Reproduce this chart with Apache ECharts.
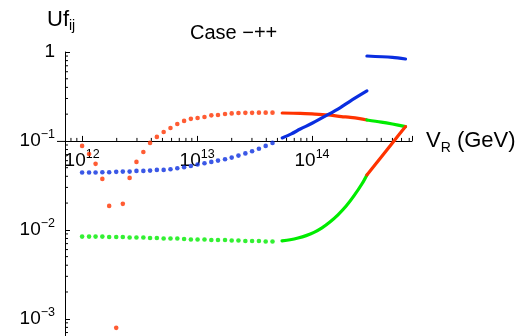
<!DOCTYPE html>
<html>
<head>
<meta charset="utf-8">
<script src="https://cdn.jsdelivr.net/npm/echarts@6/dist/echarts.min.js"></script>
<style>
  html, body { margin: 0; padding: 0; background: #fff; }
  #chart { width: 530px; height: 336px; }
</style>
</head>
<body>
<div id="chart"></div>
<script>
// Axis ranges (log scales); the horizontal axis crosses the vertical one at Y_CROSS
const X_MIN = 7.1e11, X_MAX = 7.4e14;
const Y_MIN = 6.4e-4, Y_MAX = 1;
const Y_CROSS = 0.1;

// Sampled (dotted) region, V_R in GeV
const dotX = [1.0e12, 1.15e12, 1.31e12, 1.5e12, 1.72e12, 1.98e12, 2.26e12, 2.59e12, 2.97e12, 3.41e12,
              3.9e12, 4.47e12, 5.12e12, 5.87e12, 6.73e12, 7.71e12, 8.83e12, 1.01e13, 1.16e13, 1.33e13,
              1.52e13, 1.75e13, 2.0e13, 2.29e13, 2.63e13, 3.01e13, 3.45e13, 3.95e13, 4.53e13];
const redDots = [0.0879, 0.0714, 0.0552, 0.0374, 0.0186, 0.00079, 0.0196, 0.0384, 0.0581, 0.0752,
                 0.095, 0.111, 0.126, 0.140, 0.155, 0.168, 0.177, 0.181, 0.186, 0.194,
                 0.196, 0.201, 0.204, 0.206, 0.207, 0.207, 0.208, 0.208, 0.208];
const blueDots = [0.0441, 0.0441, 0.0441, 0.0445, 0.0445, 0.0449, 0.0452, 0.0452, 0.0460, 0.0460,
                  0.0464, 0.0472, 0.0472, 0.0481, 0.0493, 0.0506, 0.0523, 0.0542, 0.0561, 0.0581,
                  0.0601, 0.0623, 0.0649, 0.0684, 0.0724, 0.0766, 0.0817, 0.0879, 0.0950];
const greenDots = [0.0084, 0.0084, 0.0084, 0.0084, 0.0083, 0.0083, 0.0083, 0.0082, 0.0082, 0.0082,
                   0.0081, 0.0081, 0.0080, 0.0080, 0.0080, 0.0079, 0.0078, 0.0078, 0.0078, 0.0077,
                   0.0077, 0.0077, 0.0076, 0.0076, 0.0075, 0.0075, 0.0075, 0.0074, 0.0074];

// Continuous region
const upperRedX = [5.5e13, 7.9e13, 1.0e14, 1.36e14, 1.8e14, 2.15e14, 2.6e14, 3.0e14];
const upperRedY = [0.206, 0.204, 0.201, 0.196, 0.188, 0.184, 0.178, 0.172];
const upperGreenX = [3.0e14, 4.0e14, 5.0e14, 6.5e14];
const upperGreenY = [0.172, 0.163, 0.155, 0.145];
const lowerGreenX = [5.48e13, 6.44e13, 7.55e13, 8.87e13, 1.04e14, 1.22e14, 1.43e14, 1.68e14, 1.98e14, 2.32e14, 2.72e14, 3.0e14];
const lowerGreenY = [0.00752, 0.00774, 0.00809, 0.00861, 0.00937, 0.01053, 0.01224, 0.01474, 0.01851, 0.02423, 0.03296, 0.0415];
const lowerRedX = [3.0e14, 4.0e14, 5.0e14, 6.5e14];
const lowerRedY = [0.0415, 0.066, 0.095, 0.145];
const blueLowX = [5.5e13, 6.6e13, 7.9e13, 1.0e14, 1.36e14, 1.75e14, 2.15e14, 3.0e14];
const blueLowY = [0.108, 0.120, 0.136, 0.158, 0.196, 0.236, 0.281, 0.365];
const blueHighX = [3.0e14, 5.0e14, 6.5e14];
const blueHighY = [0.902, 0.87, 0.834];

// Minor tick values
const xMinorTicks = [8e11, 9e11, 2e12, 3e12, 4e12, 5e12, 6e12, 7e12, 8e12, 9e12,
                     2e13, 3e13, 4e13, 5e13, 6e13, 7e13, 8e13, 9e13,
                     2e14, 3e14, 4e14, 5e14, 6e14, 7e14];
const yMinorTicks = [7e-4, 8e-4, 9e-4, 2e-3, 3e-3, 4e-3, 5e-3, 6e-3, 7e-3, 8e-3, 9e-3,
                     0.02, 0.03, 0.04, 0.05, 0.06, 0.07, 0.08, 0.09,
                     0.2, 0.3, 0.4, 0.5, 0.6, 0.7, 0.8, 0.9];

const RED = '#ff3300', BLUE = '#0a2ee0', GREEN = '#00ec00';
const FONT = '"Liberation Sans", Arial, Helvetica, sans-serif';

const zip = (xs, ys) => xs.map((x, i) => [x, ys[i]]);

function powLabel(v) {
  const e = Math.log10(v);
  const r = Math.round(e);
  if (Math.abs(e - r) > 1e-6) return '';
  if (r === 0) return '{m|1}';
  return '{m|10}{s|' + (r < 0 ? '\u2212' + (-r) : String(r)) + '}';
}

const tickRich = {
  m: { fontSize: 19, lineHeight: 26, fontFamily: FONT, color: '#000' },
  s: { fontSize: 12.5, lineHeight: 13, verticalAlign: 'top', fontFamily: FONT, color: '#000' }
};

function dotSeries(data, color) {
  return { type: 'scatter', data: data, symbol: 'circle', symbolSize: 4.6,
           itemStyle: { color: color }, silent: true, z: 3 };
}
function curveSeries(data, color, z) {
  return { type: 'line', data: data, showSymbol: false, smooth: 0.3,
           lineStyle: { color: color, width: 3.2, cap: 'round', join: 'round' }, silent: true, z: z };
}

const chart = echarts.init(document.getElementById('chart'), null, { renderer: 'canvas' });

chart.setOption({
  animation: false,
  backgroundColor: '#fff',
  title: {
    text: 'Case \u2212++', left: 185, top: 18,
    textStyle: { fontFamily: FONT, fontSize: 20, fontWeight: 'normal', color: '#000' }
  },
  graphic: [{
    type: 'text', left: 47, top: 9, silent: true,
    style: {
      text: '{m|Uf}{s|ij}',
      rich: {
        m: { fontSize: 22, lineHeight: 26, fontFamily: FONT, fill: '#000' },
        s: { fontSize: 14, lineHeight: 14, verticalAlign: 'bottom', fontFamily: FONT, fill: '#000' }
      }
    }
  }],
  grid: { left: 65, right: 118, top: 52, bottom: 0, outerBoundsMode: 'none', containLabel: false },
  xAxis: {
    type: 'log', min: X_MIN, max: X_MAX, logBase: 10,
    position: 'bottom', offset: 0,
    axisLine: { show: true, onZero: false, lineStyle: { color: '#000', width: 1 } },
    axisTick: { show: true, inside: true, length: 5, lineStyle: { color: '#000' } },
    axisLabel: { formatter: powLabel, rich: tickRich, margin: 7, interval: 0,
                 showMinLabel: true, showMaxLabel: true, hideOverlap: false },
    splitLine: { show: false },
    name: '{m|V}{s|R}{m| (GeV)}', nameLocation: 'end', nameGap: 14,
    nameTextStyle: {
      rich: {
        m: { fontSize: 22, lineHeight: 28, fontFamily: FONT, color: '#000' },
        s: { fontSize: 14, lineHeight: 14, verticalAlign: 'bottom', fontFamily: FONT, color: '#000' }
      }
    }
  },
  yAxis: {
    type: 'log', min: Y_MIN, max: Y_MAX, logBase: 10,
    axisLine: { show: true, onZero: false, lineStyle: { color: '#000', width: 1 } },
    axisTick: { show: true, inside: true, length: 5, lineStyle: { color: '#000' } },
    axisLabel: { formatter: powLabel, rich: tickRich, margin: 10,
                 showMinLabel: true, showMaxLabel: true, hideOverlap: false },
    splitLine: { show: false }
  },
  series: [
    // minor ticks along the horizontal axis (drawn at the crossing level)
    {
      type: 'custom', silent: true, clip: false, z: 1,
      data: xMinorTicks.map(v => [v, Y_CROSS]),
      renderItem: (params, api) => {
        const p = api.coord([api.value(0), api.value(1)]);
        return { type: 'line', shape: { x1: p[0], y1: p[1], x2: p[0], y2: p[1] - 3 },
                 style: { stroke: '#000', lineWidth: 1 } };
      }
    },
    // short stub of the horizontal axis left of the vertical axis
    {
      type: 'custom', silent: true, clip: false, z: 1,
      data: [[X_MIN, Y_CROSS]],
      renderItem: (params, api) => {
        const p = api.coord([api.value(0), api.value(1)]);
        return { type: 'line', shape: { x1: p[0] - 8, y1: p[1] + 0.5, x2: p[0], y2: p[1] + 0.5 },
                 style: { stroke: '#000', lineWidth: 1 } };
      }
    },
    // minor ticks along the vertical axis
    {
      type: 'custom', silent: true, clip: false, z: 1,
      data: yMinorTicks.map(v => [X_MIN, v]),
      renderItem: (params, api) => {
        const p = api.coord([api.value(0), api.value(1)]);
        return { type: 'line', shape: { x1: p[0], y1: p[1], x2: p[0] + 3, y2: p[1] },
                 style: { stroke: '#000', lineWidth: 1 } };
      }
    },
    dotSeries(zip(dotX, redDots), RED),
    dotSeries(zip(dotX, blueDots), BLUE),
    dotSeries(zip(dotX, greenDots), GREEN),
    curveSeries(zip(upperRedX, upperRedY), RED, 4),
    curveSeries(zip(upperGreenX, upperGreenY), GREEN, 4),
    curveSeries(zip(lowerGreenX, lowerGreenY), GREEN, 4),
    curveSeries(zip(lowerRedX, lowerRedY), RED, 4),
    curveSeries(zip(blueLowX, blueLowY), BLUE, 5),
    curveSeries(zip(blueHighX, blueHighY), BLUE, 5)
  ]
});

// Move the horizontal axis up so it crosses the vertical axis at Y_CROSS
const crossPix = chart.convertToPixel({ yAxisIndex: 0 }, Y_CROSS);
const bottomPix = chart.convertToPixel({ yAxisIndex: 0 }, Y_MIN);
chart.setOption({ xAxis: { offset: -(bottomPix - crossPix) } });
</script>
</body>
</html>
